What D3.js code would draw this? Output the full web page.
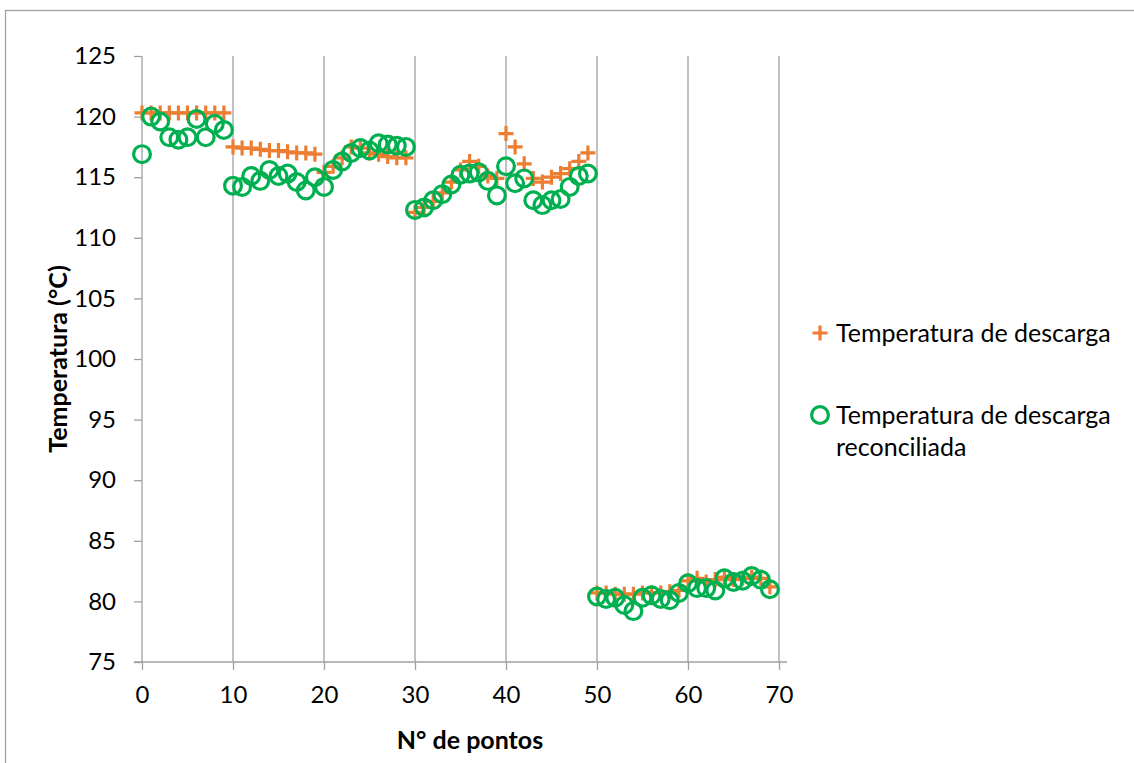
<!DOCTYPE html>
<html>
<head>
<meta charset="utf-8">
<script src="https://d3js.org/d3.v7.min.js"></script>
<style>
  body { margin: 0; background: #fff; }
  text { font-family: Lato, "Open Sans", sans-serif; fill: #000; }
</style>
</head>
<body>
<script>
// data
var pontos = d3.range(0, 70);
var descarga = [
  120.3, 120.3, 120.3, 120.3, 120.3, 120.3, 120.3, 120.3, 120.3, 120.3,
  117.5, 117.4, 117.4, 117.3, 117.2, 117.2, 117.1, 117.0, 117.0, 116.9,
  115.4, 115.9, 116.6, 117.5, 117.4, 117.0, 116.9, 116.7, 116.6, 116.6,
  112.1, 112.5, 113.0, 113.7, 114.6, 115.6, 116.3, 115.9, 115.1, 114.9,
  118.6, 117.5, 116.1, 114.9, 114.6, 115.0, 115.3, 115.7, 116.3, 117.0,
  80.7, 80.7, 80.6, 80.6, 80.6, 80.7, 80.7, 80.7, 80.8, 80.9,
  81.7, 81.9, 81.6, 81.8, 82.0, 81.8, 81.9, 82.0, 81.9, 81.2
];
var reconciliada = [
  116.9, 120.0, 119.6, 118.3, 118.1, 118.3, 119.8, 118.3, 119.4, 118.9,
  114.3, 114.2, 115.1, 114.7, 115.6, 115.1, 115.3, 114.6, 113.9, 115.0,
  114.2, 115.6, 116.3, 117.0, 117.4, 117.2, 117.8, 117.7, 117.6, 117.5,
  112.3, 112.5, 113.1, 113.6, 114.4, 115.2, 115.3, 115.4, 114.7, 113.5,
  115.9, 114.5, 114.9, 113.1, 112.7, 113.1, 113.2, 114.2, 115.1, 115.3,
  80.4, 80.2, 80.3, 79.7, 79.2, 80.3, 80.5, 80.2, 80.1, 80.7,
  81.5, 81.1, 81.1, 80.9, 81.9, 81.6, 81.7, 82.1, 81.8, 81.0
];
var xTicks = [0, 10, 20, 30, 40, 50, 60, 70];
var yTicks = [75, 80, 85, 90, 95, 100, 105, 110, 115, 120, 125];
var seriesNames = ["Temperatura de descarga", "Temperatura de descarga", "reconciliada"];

var width = 1134;
var height = 763;
var orange = "#ED7D31";
var green = "#00B050";
var axisColor = "#a0a0a0";

var svg = d3
  .select("body")
  .append("svg")
  .attr("width", width)
  .attr("height", height);

// chart border
svg
  .append("rect")
  .attr("x", 5.5)
  .attr("y", 10.5)
  .attr("width", 1140)
  .attr("height", 780)
  .attr("fill", "none")
  .attr("stroke", axisColor)
  .attr("stroke-width", 1.3);

var xScale = d3
  .scaleLinear()
  .domain([0, 70])
  .range([142, 779]);
var yScale = d3
  .scaleLinear()
  .domain([75, 125])
  .range([662, 56]);

// vertical gridlines
svg
  .append("g")
  .selectAll("line")
  .data(xTicks.slice(1))
  .enter()
  .append("line")
  .attr("x1", function(d) { return xScale(d); })
  .attr("x2", function(d) { return xScale(d); })
  .attr("y1", yScale(125))
  .attr("y2", yScale(75))
  .attr("stroke", axisColor)
  .attr("stroke-width", 1.3);

// x axis
var xAxis = svg
  .append("g")
  .attr("transform", "translate(0," + yScale(75) + ")")
  .call(d3.axisBottom(xScale).tickValues(xTicks).tickSize(8).tickPadding(16));
xAxis.select(".domain").remove();
xAxis
  .append("line")
  .attr("x1", 134)
  .attr("x2", 787)
  .attr("stroke", axisColor)
  .attr("stroke-width", 1.3);

// y axis
var yAxis = svg
  .append("g")
  .attr("transform", "translate(" + xScale(0) + ",0)")
  .call(d3.axisLeft(yScale).tickValues(yTicks).tickSize(8).tickPadding(18));
yAxis.select(".domain").remove();
yAxis
  .append("line")
  .attr("y1", yScale(125))
  .attr("y2", yScale(75))
  .attr("stroke", axisColor)
  .attr("stroke-width", 1.3);

svg.selectAll(".tick line").attr("stroke", axisColor).attr("stroke-width", 1.3);
svg
  .selectAll(".tick text")
  .attr("font-size", 24)
  .attr("font-family", "Lato, sans-serif")
  .attr("fill", "#000");

// axis titles
svg
  .append("text")
  .attr("x", 470)
  .attr("y", 749)
  .attr("text-anchor", "middle")
  .attr("font-size", 25)
  .attr("font-weight", "bold")
  .text("N° de pontos");
svg
  .append("text")
  .attr("transform", "translate(67,359) rotate(-90)")
  .attr("text-anchor", "middle")
  .attr("font-size", 25)
  .attr("font-weight", "bold")
  .text("Temperatura (°C)");

var plusPath = "M-7.5,0H7.5M0,-7.5V7.5";

// series 1: plus markers
svg
  .append("g")
  .selectAll("path")
  .data(descarga)
  .enter()
  .append("path")
  .attr("d", plusPath)
  .attr("transform", function(d, i) {
    return "translate(" + xScale(pontos[i]) + "," + yScale(d) + ")";
  })
  .attr("stroke", orange)
  .attr("stroke-width", 3.2)
  .attr("fill", "none");

// series 2: open circles
svg
  .append("g")
  .selectAll("circle")
  .data(reconciliada)
  .enter()
  .append("circle")
  .attr("cx", function(d, i) { return xScale(pontos[i]); })
  .attr("cy", function(d) { return yScale(d); })
  .attr("r", 8.4)
  .attr("fill", "none")
  .attr("stroke", green)
  .attr("stroke-width", 3.2);

// legend
var legend = svg.append("g");
legend
  .append("path")
  .attr("d", plusPath)
  .attr("transform", "translate(820,333)")
  .attr("stroke", orange)
  .attr("stroke-width", 3.2)
  .attr("fill", "none");
legend
  .append("circle")
  .attr("cx", 820)
  .attr("cy", 415)
  .attr("r", 8.4)
  .attr("fill", "none")
  .attr("stroke", green)
  .attr("stroke-width", 3.2);
legend
  .selectAll("text")
  .data(seriesNames)
  .enter()
  .append("text")
  .attr("x", 836)
  .attr("y", function(d, i) { return [333, 415, 447][i]; })
  .attr("dy", "0.35em")
  .attr("font-size", 25)
  .text(function(d) { return d; });
</script>
</body>
</html>
